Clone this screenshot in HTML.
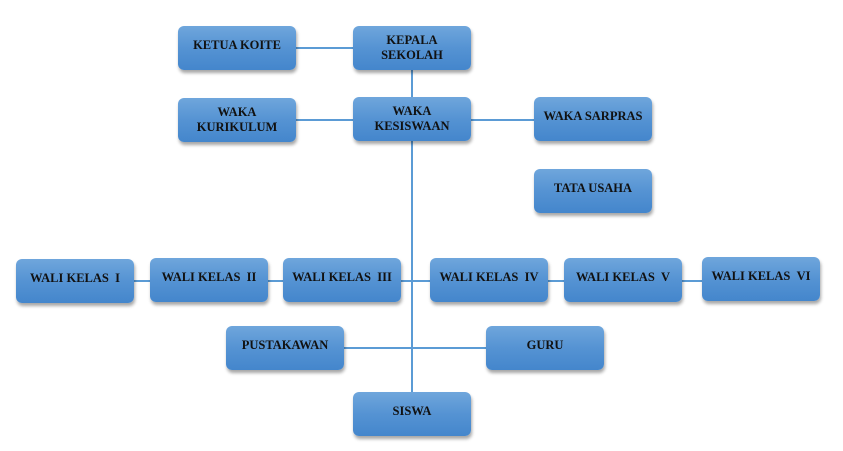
<!DOCTYPE html>
<html><head><style>
body{margin:0;width:843px;height:451px;background:#fff;position:relative;overflow:hidden;font-family:"Liberation Serif",serif}
.b{position:absolute;width:118px;height:44px;border-radius:6px;background:linear-gradient(#6fa6dc,#5593d3 50%,#4486cc);box-shadow:1px 3px 3px rgba(0,0,0,.35);box-sizing:border-box;text-align:center;font-weight:bold;font-size:12.5px;line-height:15px;color:#111;padding-top:12px}
.t{padding-top:7px}
.l{position:absolute;background:#5b9bd5}
</style></head><body>
<div class="l" style="left:411px;top:70px;width:1.5px;height:322px"></div>
<div class="l" style="left:296px;top:47px;width:57px;height:1.5px"></div>
<div class="l" style="left:296px;top:119px;width:57px;height:1.5px"></div>
<div class="l" style="left:471px;top:119px;width:63px;height:1.5px"></div>
<div class="l" style="left:134px;top:280px;width:568px;height:1.5px"></div>
<div class="l" style="left:344px;top:347px;width:142px;height:1.5px"></div>
<div class="b" style="left:178px;top:26px">KETUA KOITE</div>
<div class="b t" style="left:353px;top:26px">KEPALA<br>SEKOLAH</div>
<div class="b t" style="left:178px;top:98px">WAKA<br>KURIKULUM</div>
<div class="b t" style="left:353px;top:97px">WAKA<br>KESISWAAN</div>
<div class="b" style="left:534px;top:97px">WAKA SARPRAS</div>
<div class="b" style="left:534px;top:169px">TATA USAHA</div>
<div class="b" style="left:16px;top:259px">WALI KELAS &nbsp;I</div>
<div class="b" style="left:150px;top:258px">WALI KELAS &nbsp;II</div>
<div class="b" style="left:283px;top:258px">WALI KELAS &nbsp;III</div>
<div class="b" style="left:430px;top:258px">WALI KELAS &nbsp;IV</div>
<div class="b" style="left:564px;top:258px">WALI KELAS &nbsp;V</div>
<div class="b" style="left:702px;top:257px">WALI KELAS &nbsp;VI</div>
<div class="b" style="left:226px;top:326px">PUSTAKAWAN</div>
<div class="b" style="left:486px;top:326px">GURU</div>
<div class="b" style="left:353px;top:392px">SISWA</div>
</body></html>
